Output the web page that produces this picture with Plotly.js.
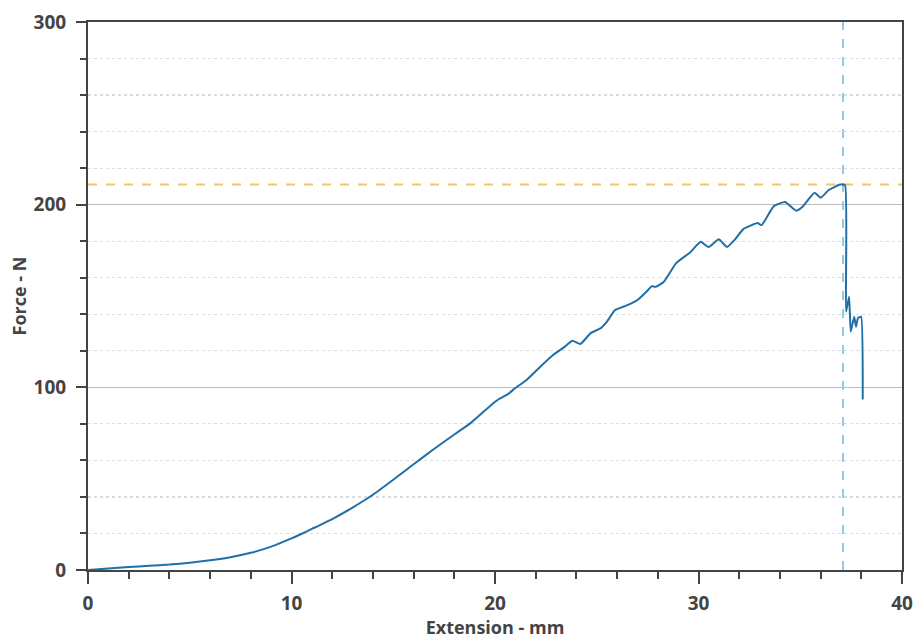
<!DOCTYPE html>
<html>
<head>
<meta charset="utf-8">
<script src="https://cdn.plot.ly/plotly-3.0.1.min.js"></script>
<style>html,body{margin:0;padding:0;background:#fff;}#chart{width:917px;height:639px;}</style>
</head>
<body>
<div id="chart"></div>
<script>
const extension = [0, 1, 2, 3, 4, 5, 6, 7, 8, 9, 10, 10.4, 11, 12, 13, 14, 15, 16, 17, 18, 18.8, 19.9, 20.2, 20.6, 21.0, 21.55, 22.2, 22.85, 23.4, 23.8, 24.2, 24.7, 25.2, 25.5, 25.9, 26.3, 26.7, 27.0, 27.5, 27.7, 27.9, 28.3, 28.9, 29.6, 30.1, 30.5, 31.0, 31.4, 31.8, 32.2, 32.9, 33.1, 33.7, 34.25, 34.8, 35.1, 35.7, 36.0, 36.4, 36.95, 37.2, 37.25, 37.4, 37.48, 37.65, 37.74, 37.84, 37.99, 38.07];
const force = [0, 0.8, 1.6, 2.3, 3.0, 4.0, 5.3, 7.0, 9.4, 12.8, 17.3, 19.3, 22.5, 27.9, 34.2, 41.2, 49.4, 57.9, 66.2, 74.2, 80.4, 91.2, 93.6, 96, 99.6, 104, 111, 117.7, 122, 125.5, 123.7, 129.7, 132.4, 136, 142.3, 144.1, 146, 147.8, 153, 155.4, 155, 157.8, 168, 174, 179.7, 176.8, 181, 176.8, 181, 186.6, 189.9, 188.8, 199.2, 201.4, 196.7, 198.7, 206.5, 203.8, 208, 211, 210.7, 141.4, 149.6, 130.5, 138.7, 133.2, 138, 138.7, 93.4];
const peakForce = 211;
const breakExtension = 37.1;
const xTicks = [0, 10, 20, 30, 40];
const yTicks = [0, 100, 200, 300];

const fontFam = '"Open Sans", "Segoe UI", sans-serif';
const traces = [{
  x: extension, y: force, type: 'scatter', mode: 'lines',
  line: {color: '#1f6fa8', width: 2, shape: 'spline', smoothing: 0.4},
  hoverinfo: 'skip', showlegend: false
}];
const layout = {
  width: 917, height: 639,
  margin: {l: 88, r: 15, t: 22, b: 69},
  paper_bgcolor: '#fff', plot_bgcolor: '#fff',
  showlegend: false,
  font: {family: fontFam, color: '#444'},
  xaxis: {
    range: [0, 40], tickvals: xTicks, ticktext: xTicks.map(String),
    showgrid: false, zeroline: false,
    showline: true, linecolor: '#444', linewidth: 2, mirror: true,
    ticks: 'outside', ticklen: 12, tickwidth: 2, tickcolor: '#444',
    ticklabelstandoff: 3,
    minor: {dtick: 2, ticks: 'outside', ticklen: 7, tickwidth: 2, tickcolor: '#444', showgrid: false},
    tickfont: {family: fontFam, size: 19, color: '#444', weight: 'bold'},
    title: {text: '<b>Extension - mm</b>', font: {family: fontFam, size: 18, color: '#444'}, standoff: 3},
    fixedrange: true
  },
  yaxis: {
    range: [0, 300], tickvals: yTicks, ticktext: yTicks.map(String),
    showgrid: true, gridcolor: '#bdbdbd', gridwidth: 1.5, zeroline: false,
    showline: true, linecolor: '#444', linewidth: 2, mirror: true,
    ticks: 'outside', ticklen: 10, tickwidth: 2, tickcolor: '#444',
    ticklabelstandoff: 6,
    minor: {dtick: 20, ticks: 'outside', ticklen: 6, tickwidth: 2, tickcolor: '#444', showgrid: true, gridcolor: '#dcdcdc', griddash: 'dot', gridwidth: 1.2},
    tickfont: {family: fontFam, size: 19, color: '#444', weight: 'bold'},
    title: {text: '<b>Force - N</b>', font: {family: fontFam, size: 18, color: '#444'}, standoff: 2},
    fixedrange: true
  },
  shapes: [
    {type: 'line', xref: 'paper', x0: 0, x1: 1, yref: 'y', y0: peakForce, y1: peakForce,
     line: {color: '#f3c468', width: 2, dash: 'dash'}, layer: 'below'},
    {type: 'line', xref: 'x', x0: breakExtension, x1: breakExtension, yref: 'paper', y0: 0, y1: 1,
     line: {color: '#8fcbe3', width: 2, dash: 'dash'}, layer: 'below'}
  ]
};
Plotly.newPlot('chart', traces, layout, {displayModeBar: false, staticPlot: true});
</script>
</body>
</html>
